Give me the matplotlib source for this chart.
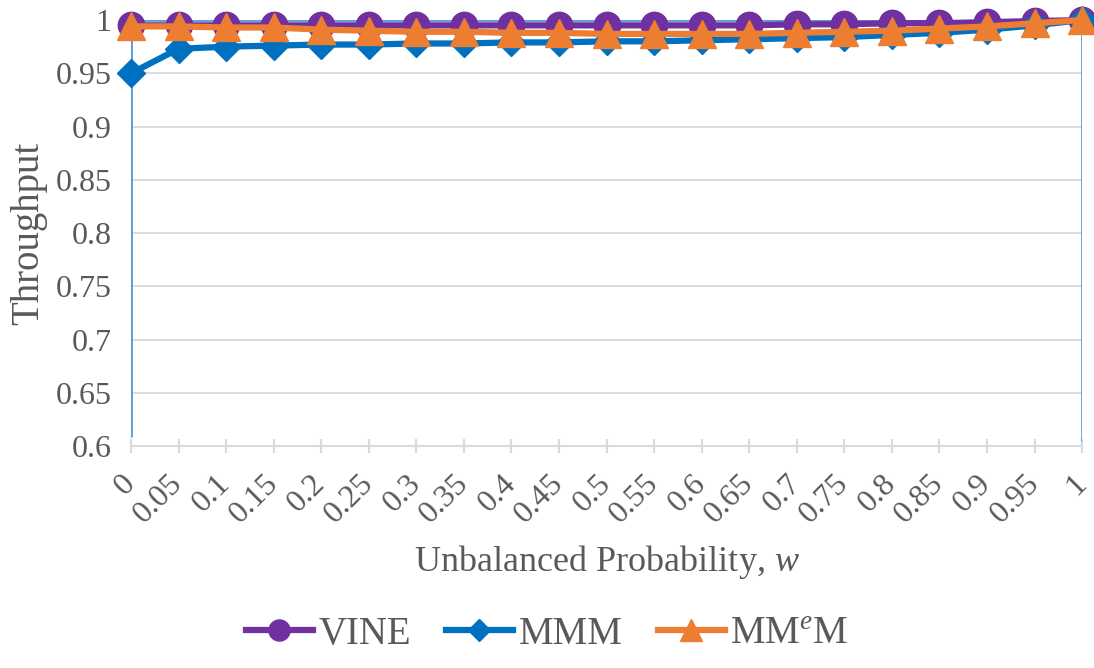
import matplotlib.pyplot as plt
import numpy as np

plt.rcParams['font.family'] = 'Liberation Serif'
plt.rcParams['mathtext.fontset'] = 'custom'
plt.rcParams['mathtext.rm'] = 'Liberation Serif'
plt.rcParams['mathtext.it'] = 'Liberation Serif:italic'

w = [0, 0.05, 0.1, 0.15, 0.2, 0.25, 0.3, 0.35, 0.4, 0.45, 0.5,
     0.55, 0.6, 0.65, 0.7, 0.75, 0.8, 0.85, 0.9, 0.95, 1]
w_labels = [str(v) for v in w]

vine = [0.995, 0.995, 0.995, 0.995, 0.995, 0.995, 0.995, 0.995, 0.995, 0.995, 0.995,
        0.995, 0.995, 0.995, 0.996, 0.996, 0.997, 0.997, 0.998, 0.999, 1.0]
mmm = [0.950, 0.973, 0.975, 0.976, 0.977, 0.977, 0.978, 0.978, 0.979, 0.979, 0.980,
       0.980, 0.981, 0.982, 0.983, 0.984, 0.986, 0.988, 0.991, 0.995, 1.0]
mmem = [0.994, 0.994, 0.993, 0.993, 0.991, 0.990, 0.989, 0.989, 0.988, 0.988, 0.987,
        0.987, 0.987, 0.987, 0.988, 0.989, 0.990, 0.992, 0.994, 0.997, 1.0]

grey = '#595959'
x = np.arange(len(w))

fig = plt.figure(figsize=(10.94, 6.68), dpi=100)
ax = fig.add_axes([0.1197, 0.332, 0.8695, 0.638])

ax.plot(x, vine, color='#7030a0', lw=4.5, marker='o', ms=19, label='VINE', zorder=3, clip_on=False)
ax.plot(x, mmm, color='#0070c0', lw=4.5, marker='D', ms=14, label='MMM', zorder=4, clip_on=False)
ax.plot(x, mmem, color='#ed7d31', lw=4.5, marker='^', ms=20, label='MM$^{\\mathit{e}}$M', zorder=5, clip_on=False)

# thin blue frame lines at both ends and the top
frame = dict(color='#5b9bd5', lw=2, zorder=2, solid_capstyle='butt')
ax.plot([0, 0], [0.609, 1.0], **frame)
ax.plot([20, 20], [0.605, 1.0], **frame)
ax.plot([0, 20], [1.0, 1.0], **frame)

ax.set_xlim(0, 20)
ax.set_ylim(0.6, 1.0)
ax.set_yticks(np.arange(0.6, 1.001, 0.05))
ax.set_yticklabels(['0.6', '0.65', '0.7', '0.75', '0.8', '0.85', '0.9', '0.95', '1'])
ax.set_xticks(x)
ax.set_xticklabels(w_labels, rotation=45, ha='right', va='center', rotation_mode='anchor')

ax.grid(axis='y', color='#d9d9d9', lw=1.3)
ax.set_axisbelow(True)
for s in ['top', 'right', 'left']:
    ax.spines[s].set_visible(False)
ax.spines['bottom'].set_color('#d9d9d9')
ax.spines['bottom'].set_linewidth(1.5)
ax.tick_params(axis='y', length=0, labelsize=23, labelcolor=grey, pad=14)
ax.tick_params(axis='x', direction='inout', length=10, width=1.5, color='#d9d9d9',
               labelsize=23, labelcolor=grey, pad=19)

ax.set_ylabel('Throughput', fontsize=28, color=grey, labelpad=6)
ax.set_xlabel('Unbalanced Probability, $w$', fontsize=26, color=grey, labelpad=10)

fig.legend(loc='lower center', bbox_to_anchor=(0.5, -0.03), ncol=3, frameon=False,
           fontsize=28, labelcolor=grey, handlelength=1.72, handletextpad=0.15,
           columnspacing=0.9, markerscale=0.8)

fig.savefig('out.png', dpi=100)
